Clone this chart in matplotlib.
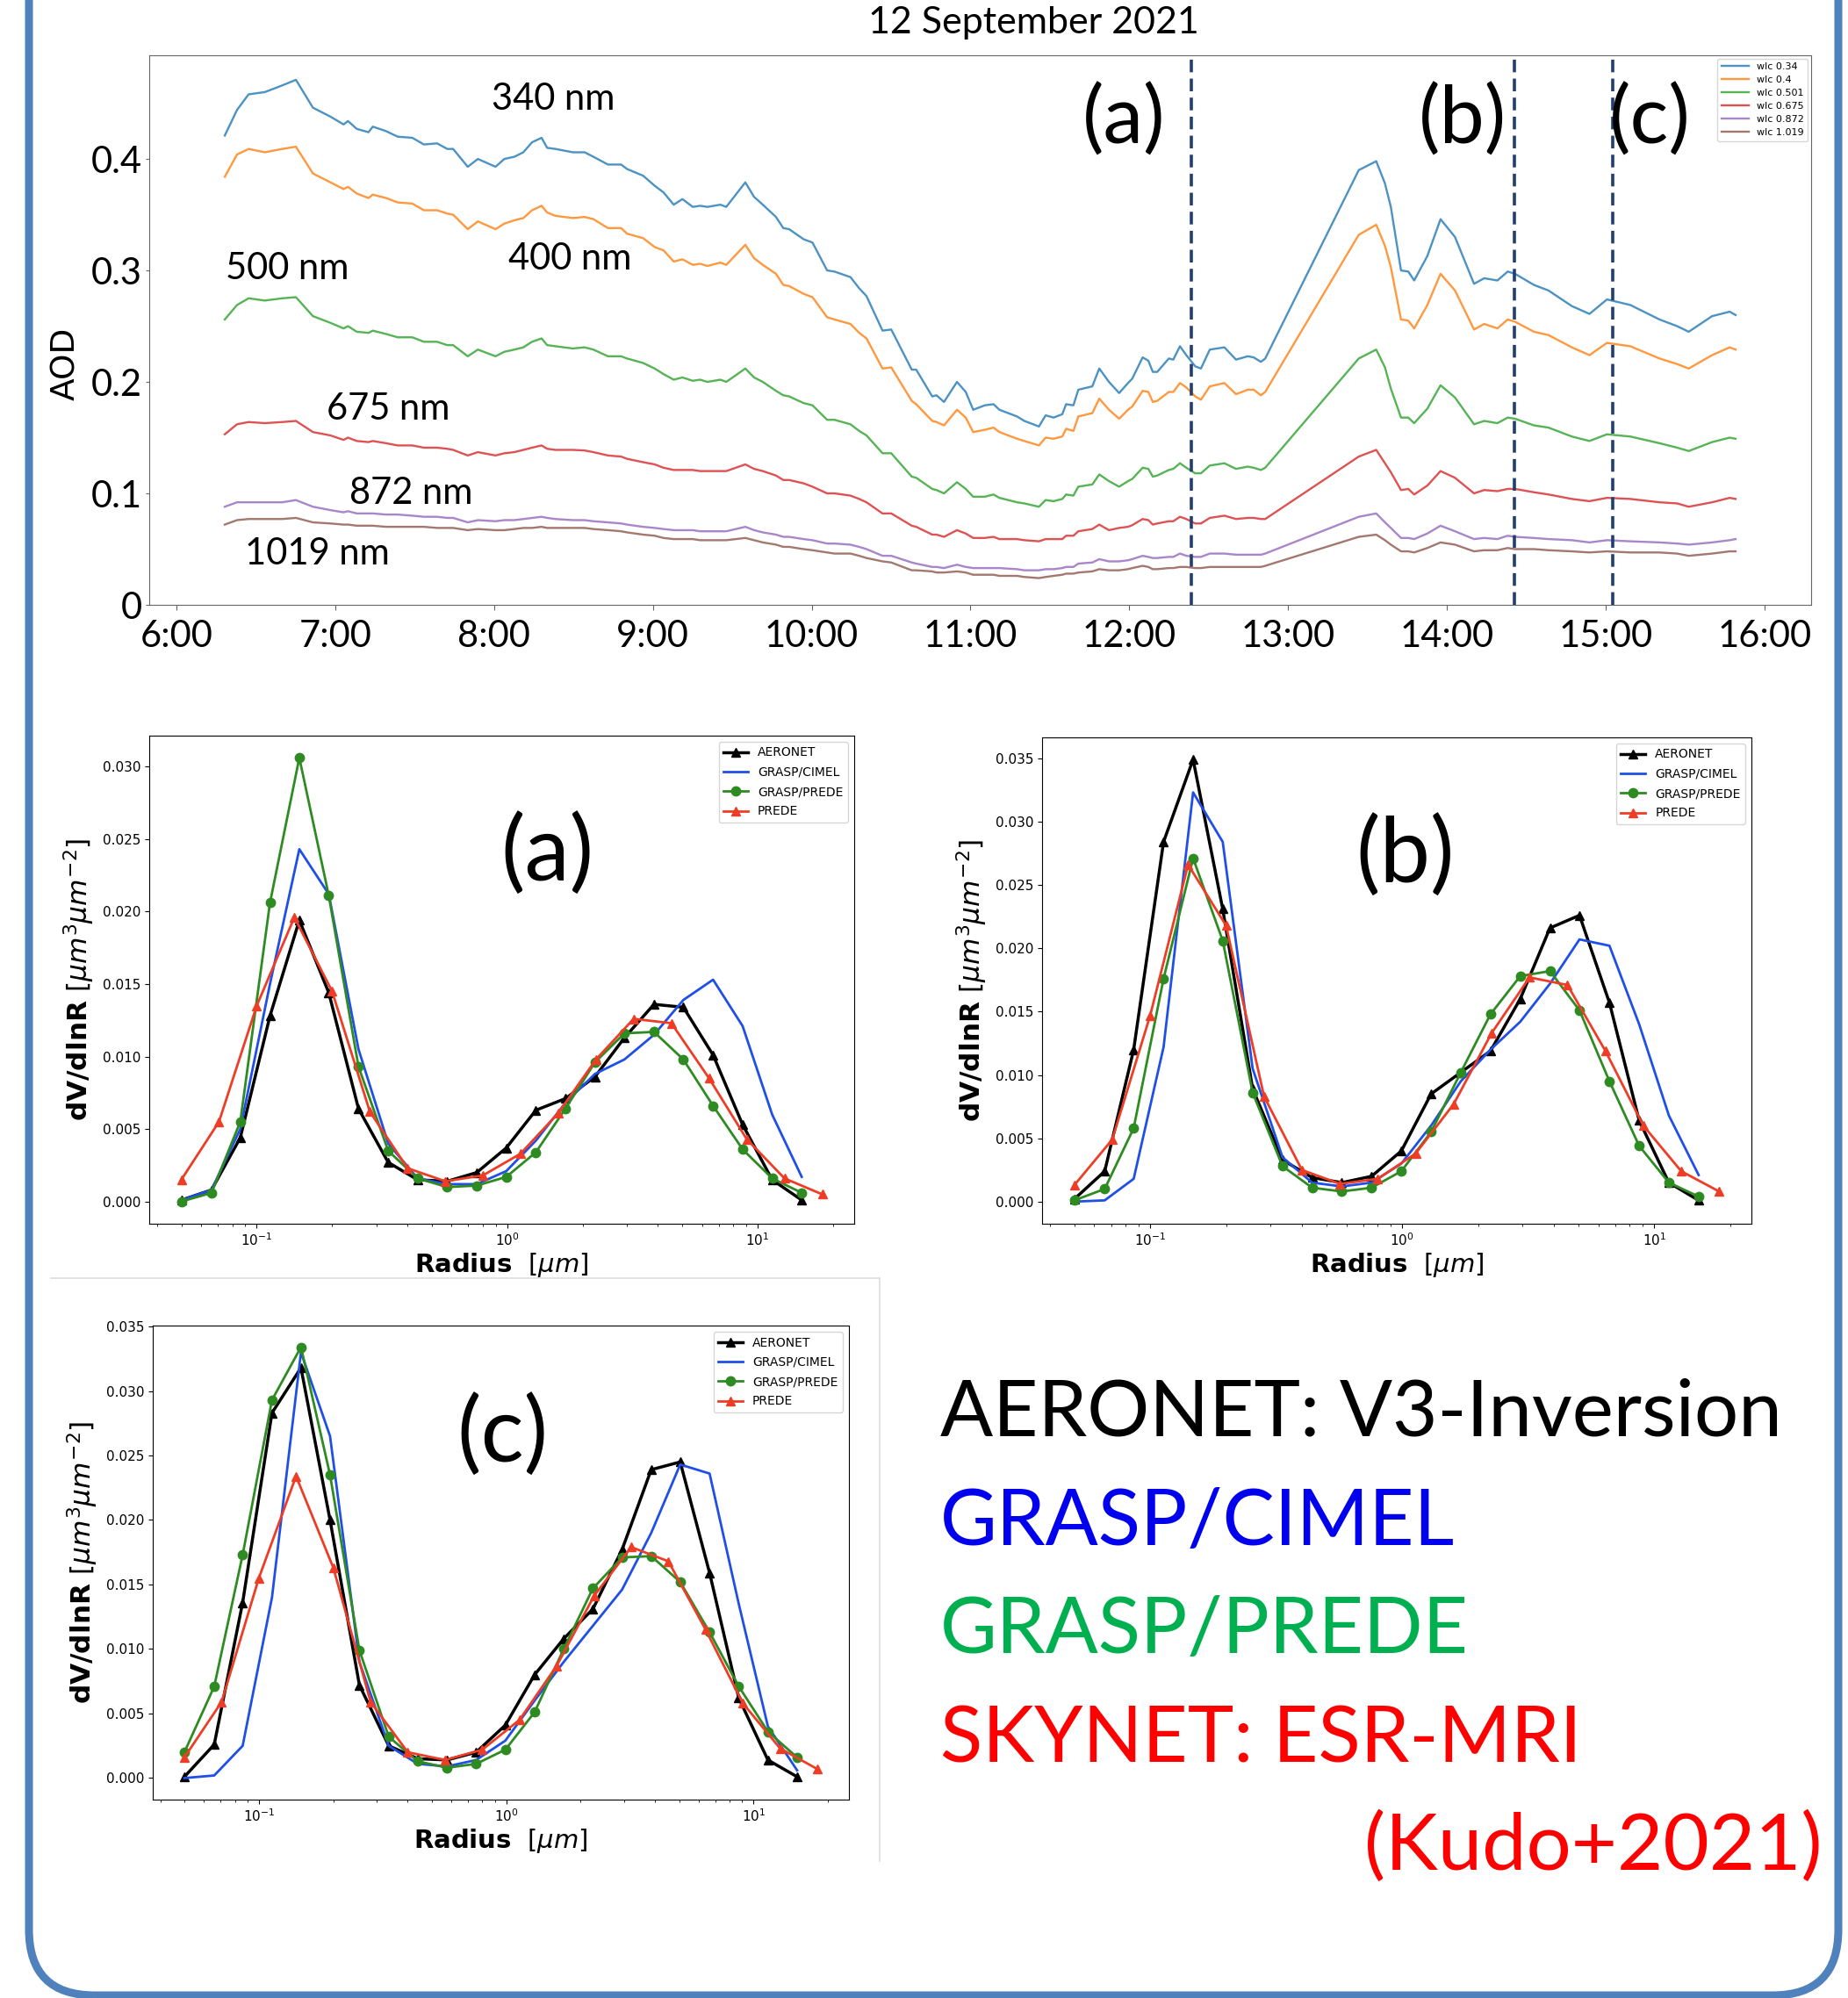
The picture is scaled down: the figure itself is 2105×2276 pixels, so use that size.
import matplotlib.pyplot as plt
from matplotlib.patches import FancyBboxPatch
from matplotlib.lines import Line2D
from matplotlib.transforms import IdentityTransform

# ---- top panel: AOD time series (hours, decimal) ----
times = [6.304, 6.381, 6.454, 6.556, 6.666, 6.752, 6.859, 6.969, 7.052, 7.080,
         7.135, 7.209, 7.236, 7.319, 7.393, 7.485, 7.558, 7.641, 7.705, 7.742,
         7.834, 7.898, 8.009, 8.064, 8.128, 8.184, 8.239, 8.299, 8.334, 8.386,
         8.496, 8.570, 8.625, 8.717, 8.800, 8.837, 8.938, 9.011, 9.067, 9.131,
         9.186, 9.251, 9.297, 9.343, 9.425, 9.462, 9.582, 9.637, 9.692, 9.775,
         9.821, 9.858, 9.949, 10.005, 10.097, 10.143, 10.244, 10.299, 10.345, 10.446,
         10.501, 10.630, 10.658, 10.759, 10.786, 10.833, 10.915, 10.970, 11.017,
         11.090, 11.145, 11.182, 11.293, 11.339, 11.431, 11.473, 11.523, 11.578, 11.602,
         11.648, 11.679, 11.767, 11.811, 11.872, 11.936, 11.992, 12.019, 12.084, 12.120,
         12.148, 12.176, 12.249, 12.277, 12.319, 12.359, 12.415, 12.451, 12.507, 12.599,
         12.672, 12.746, 12.783, 12.829, 12.856, 13.445, 13.555,
         13.610, 13.647, 13.711, 13.757, 13.794, 13.877, 13.960, 14.051, 14.171, 14.235,
         14.318, 14.383, 14.429, 14.548, 14.640, 14.787, 14.898, 15.008, 15.155, 15.339,
         15.450, 15.523, 15.670, 15.781, 15.818]

aod_340 = [0.421, 0.444, 0.458, 0.460, 0.466, 0.471, 0.446, 0.438, 0.431, 0.434,
           0.427, 0.424, 0.429, 0.425, 0.420, 0.419, 0.413, 0.414, 0.409, 0.409,
           0.393, 0.400, 0.393, 0.400, 0.402, 0.406, 0.415, 0.419, 0.410, 0.409,
           0.406, 0.406, 0.402, 0.395, 0.395, 0.391, 0.385, 0.376, 0.370, 0.359,
           0.364, 0.357, 0.358, 0.357, 0.359, 0.357, 0.379, 0.366, 0.359, 0.348,
           0.338, 0.337, 0.328, 0.325, 0.300, 0.299, 0.294, 0.284, 0.277, 0.246,
           0.247, 0.211, 0.211, 0.187, 0.188, 0.182, 0.200, 0.191, 0.175,
           0.179, 0.180, 0.175, 0.169, 0.165, 0.160, 0.170, 0.168, 0.171, 0.180,
           0.179, 0.193, 0.196, 0.212, 0.200, 0.190, 0.199, 0.203, 0.222, 0.219,
           0.209, 0.209, 0.221, 0.220, 0.232, 0.224, 0.214, 0.212, 0.229, 0.231,
           0.220, 0.223, 0.222, 0.218, 0.221, 0.390, 0.398,
           0.378, 0.357, 0.300, 0.299, 0.291, 0.313, 0.346, 0.330, 0.288, 0.293,
           0.291, 0.299, 0.297, 0.287, 0.282, 0.268, 0.261, 0.274, 0.269, 0.256,
           0.250, 0.245, 0.259, 0.263, 0.260]

aod_400 = [0.384, 0.404, 0.409, 0.406, 0.409, 0.411, 0.387, 0.379, 0.373, 0.375,
           0.369, 0.365, 0.368, 0.365, 0.361, 0.360, 0.354, 0.354, 0.351, 0.350,
           0.337, 0.344, 0.337, 0.342, 0.345, 0.347, 0.354, 0.358, 0.352, 0.349,
           0.347, 0.348, 0.346, 0.338, 0.338, 0.333, 0.329, 0.321, 0.318, 0.308,
           0.310, 0.305, 0.306, 0.304, 0.307, 0.305, 0.323, 0.311, 0.305, 0.297,
           0.287, 0.286, 0.279, 0.276, 0.258, 0.256, 0.252, 0.244, 0.239, 0.212,
           0.213, 0.183, 0.180, 0.165, 0.164, 0.161, 0.175, 0.168, 0.155,
           0.157, 0.159, 0.155, 0.149, 0.147, 0.143, 0.150, 0.149, 0.151, 0.158,
           0.156, 0.169, 0.172, 0.185, 0.175, 0.167, 0.175, 0.178, 0.192, 0.191,
           0.182, 0.183, 0.191, 0.191, 0.199, 0.195, 0.187, 0.184, 0.196, 0.199,
           0.189, 0.193, 0.193, 0.188, 0.191, 0.332, 0.341,
           0.322, 0.303, 0.256, 0.255, 0.248, 0.269, 0.297, 0.282, 0.247, 0.252,
           0.248, 0.256, 0.254, 0.245, 0.242, 0.231, 0.224, 0.235, 0.232, 0.221,
           0.216, 0.212, 0.224, 0.231, 0.229]

aod_500 = [0.256, 0.269, 0.275, 0.273, 0.275, 0.276, 0.259, 0.253, 0.248, 0.250,
           0.245, 0.244, 0.246, 0.243, 0.240, 0.240, 0.236, 0.236, 0.233, 0.233,
           0.223, 0.229, 0.223, 0.227, 0.229, 0.231, 0.236, 0.239, 0.233, 0.232,
           0.230, 0.231, 0.229, 0.223, 0.223, 0.221, 0.217, 0.212, 0.207, 0.202,
           0.204, 0.201, 0.202, 0.200, 0.202, 0.200, 0.212, 0.204, 0.200, 0.192,
           0.188, 0.187, 0.181, 0.179, 0.166, 0.166, 0.162, 0.156, 0.152, 0.136,
           0.136, 0.115, 0.114, 0.104, 0.103, 0.100, 0.110, 0.104, 0.097,
           0.097, 0.099, 0.096, 0.092, 0.091, 0.088, 0.094, 0.093, 0.095, 0.099,
           0.098, 0.106, 0.108, 0.117, 0.111, 0.106, 0.111, 0.113, 0.123, 0.122,
           0.115, 0.116, 0.121, 0.122, 0.127, 0.123, 0.118, 0.118, 0.125, 0.127,
           0.122, 0.124, 0.123, 0.121, 0.123, 0.221, 0.229,
           0.213, 0.194, 0.168, 0.168, 0.163, 0.176, 0.197, 0.186, 0.162, 0.165,
           0.163, 0.168, 0.167, 0.161, 0.159, 0.151, 0.147, 0.153, 0.151, 0.145,
           0.141, 0.138, 0.146, 0.150, 0.149]

aod_675 = [0.153, 0.162, 0.164, 0.163, 0.164, 0.165, 0.155, 0.152, 0.148, 0.150,
           0.147, 0.146, 0.147, 0.145, 0.143, 0.143, 0.141, 0.141, 0.140, 0.139,
           0.134, 0.137, 0.134, 0.136, 0.137, 0.139, 0.141, 0.143, 0.140, 0.139,
           0.139, 0.1385, 0.137, 0.134, 0.133, 0.131, 0.128, 0.126, 0.123, 0.121,
           0.121, 0.121, 0.120, 0.120, 0.120, 0.120, 0.126, 0.122, 0.120, 0.116,
           0.112, 0.112, 0.109, 0.106, 0.100, 0.100, 0.098, 0.095, 0.092, 0.082,
           0.082, 0.071, 0.070, 0.063, 0.063, 0.061, 0.067, 0.064, 0.060,
           0.060, 0.061, 0.059, 0.059, 0.058, 0.057, 0.059, 0.059, 0.059, 0.062,
           0.062, 0.066, 0.068, 0.072, 0.067, 0.069, 0.070, 0.0715, 0.077, 0.076,
           0.072, 0.073, 0.075, 0.075, 0.079, 0.077, 0.073, 0.073, 0.078, 0.080,
           0.077, 0.078, 0.078, 0.077, 0.077, 0.133, 0.139,
           0.127, 0.119, 0.103, 0.104, 0.099, 0.107, 0.120, 0.114, 0.100, 0.103,
           0.102, 0.104, 0.104, 0.101, 0.099, 0.095, 0.093, 0.096, 0.095, 0.092,
           0.091, 0.088, 0.092, 0.096, 0.095]

aod_872 = [0.088, 0.092, 0.092, 0.092, 0.092, 0.094, 0.088, 0.085, 0.083, 0.084,
           0.082, 0.082, 0.082, 0.081, 0.081, 0.080, 0.079, 0.079, 0.078, 0.078,
           0.074, 0.076, 0.075, 0.076, 0.076, 0.077, 0.078, 0.079, 0.078, 0.077,
           0.076, 0.076, 0.075, 0.074, 0.073, 0.072, 0.070, 0.069, 0.068, 0.067,
           0.067, 0.067, 0.066, 0.066, 0.066, 0.066, 0.070, 0.067, 0.065, 0.063,
           0.061, 0.061, 0.059, 0.058, 0.055, 0.055, 0.054, 0.052, 0.050, 0.044,
           0.044, 0.038, 0.037, 0.034, 0.034, 0.033, 0.036, 0.034, 0.033,
           0.033, 0.033, 0.033, 0.032, 0.031, 0.031, 0.032, 0.032, 0.033, 0.034,
           0.034, 0.037, 0.038, 0.041, 0.039, 0.039, 0.040, 0.041, 0.044, 0.043,
           0.042, 0.042, 0.043, 0.043, 0.046, 0.044, 0.043, 0.043, 0.046, 0.046,
           0.045, 0.045, 0.045, 0.045, 0.046, 0.079, 0.082,
           0.074, 0.069, 0.060, 0.060, 0.059, 0.064, 0.071, 0.066, 0.059, 0.060,
           0.059, 0.062, 0.061, 0.060, 0.059, 0.058, 0.056, 0.058, 0.057, 0.056,
           0.055, 0.054, 0.056, 0.058, 0.059]

aod_1019 = [0.072, 0.076, 0.077, 0.077, 0.077, 0.078, 0.074, 0.073, 0.072, 0.072,
            0.071, 0.071, 0.071, 0.070, 0.070, 0.070, 0.070, 0.069, 0.069, 0.069,
            0.067, 0.068, 0.067, 0.067, 0.068, 0.069, 0.069, 0.070, 0.069, 0.069,
            0.069, 0.069, 0.068, 0.067, 0.066, 0.065, 0.063, 0.062, 0.060, 0.059,
            0.059, 0.059, 0.058, 0.058, 0.058, 0.058, 0.060, 0.058, 0.056, 0.054,
            0.052, 0.052, 0.050, 0.049, 0.047, 0.046, 0.046, 0.044, 0.042, 0.039,
            0.038, 0.031, 0.031, 0.030, 0.029, 0.029, 0.030, 0.029, 0.027,
            0.027, 0.027, 0.026, 0.026, 0.025, 0.024, 0.025, 0.026, 0.027, 0.028,
            0.028, 0.029, 0.030, 0.032, 0.031, 0.031, 0.032, 0.033, 0.035, 0.034,
            0.032, 0.032, 0.033, 0.033, 0.034, 0.034, 0.033, 0.033, 0.034, 0.034,
            0.034, 0.034, 0.034, 0.034, 0.035, 0.061, 0.063,
            0.058, 0.054, 0.048, 0.048, 0.047, 0.051, 0.056, 0.054, 0.048, 0.049,
            0.049, 0.051, 0.050, 0.050, 0.049, 0.048, 0.047, 0.048, 0.047, 0.047,
            0.046, 0.044, 0.046, 0.048, 0.048]

wlc_labels = ["wlc 0.34", "wlc 0.4", "wlc 0.501", "wlc 0.675", "wlc 0.872", "wlc 1.019"]
nm_labels = ["340 nm", "400 nm", "500 nm", "675 nm", "872 nm", "1019 nm"]
nm_pos = [(8.373, 0.4535), (8.478, 0.310), (6.70, 0.302), (7.335, 0.176), (7.479, 0.100), (6.885, 0.0455)]
hour_ticks = [6, 7, 8, 9, 10, 11, 12, 13, 14, 15, 16]
hour_labels = ["6:00", "7:00", "8:00", "9:00", "10:00", "11:00", "12:00", "13:00", "14:00", "15:00", "16:00"]
case_times = [12.391, 14.425, 15.042]
case_labels = ["(a)", "(b)", "(c)"]
case_label_x = [11.966, 14.10, 15.28]

# ---- size distributions ----
radius_bins = [0.050, 0.066, 0.086, 0.113, 0.148, 0.194, 0.255, 0.335, 0.439, 0.576, 0.756,
               0.992, 1.302, 1.708, 2.241, 2.940, 3.857, 5.051, 6.641, 8.713, 11.43, 15.0]
radius_prede = [0.05, 0.0707, 0.1, 0.1414, 0.2, 0.283, 0.4, 0.566, 0.8, 1.131,
                1.6, 2.263, 3.2, 4.525, 6.4, 9.05, 12.8, 18.1]

aeronet_a = [0.0001, 0.0008, 0.0044, 0.0128, 0.0194, 0.0144, 0.0064, 0.0027, 0.0015, 0.0014, 0.0020,
             0.0037, 0.0063, 0.0071, 0.0086, 0.0113, 0.0136, 0.0134, 0.0101, 0.0053, 0.0015, 0.0001]
cimel_a = [0.0001, 0.0008, 0.0050, 0.0150, 0.0243, 0.0212, 0.0105, 0.0040, 0.0016, 0.0012, 0.0012,
           0.0021, 0.0042, 0.0068, 0.0088, 0.0098, 0.0115, 0.0139, 0.0153, 0.0121, 0.0060, 0.0017]
gprede_a = [0.0000, 0.0006, 0.0055, 0.0206, 0.0306, 0.0211, 0.0093, 0.0035, 0.0016, 0.0010, 0.0011,
            0.0017, 0.0034, 0.0064, 0.0096, 0.0116, 0.0117, 0.0098, 0.0066, 0.0036, 0.0016, 0.0006]
skynet_a = [0.0015, 0.0055, 0.0135, 0.0196, 0.0145, 0.0062, 0.0023, 0.0014, 0.0018,
            0.0033, 0.0061, 0.0098, 0.0126, 0.0123, 0.0085, 0.0043, 0.0016, 0.0005]

aeronet_b = [0.0002, 0.0024, 0.0120, 0.0284, 0.0349, 0.0231, 0.0089, 0.0033, 0.0019, 0.0015, 0.0020,
             0.0040, 0.0085, 0.0102, 0.0119, 0.0160, 0.0216, 0.0226, 0.0157, 0.0064, 0.0015, 0.0001]
cimel_b = [0.0000, 0.0001, 0.0018, 0.0122, 0.0323, 0.0284, 0.0105, 0.0035, 0.0015, 0.0012, 0.0015,
           0.0030, 0.0060, 0.0095, 0.0120, 0.0142, 0.0172, 0.0207, 0.0202, 0.0140, 0.0068, 0.0021]
gprede_b = [0.0001, 0.0010, 0.0058, 0.0176, 0.0271, 0.0206, 0.0086, 0.0028, 0.0011, 0.0008, 0.0011,
            0.0024, 0.0055, 0.0102, 0.0148, 0.0178, 0.0182, 0.0151, 0.0095, 0.0044, 0.0015, 0.0004]
skynet_b = [0.0013, 0.0049, 0.0147, 0.0266, 0.0218, 0.0083, 0.0025, 0.0014, 0.0018,
            0.0038, 0.0077, 0.0133, 0.0177, 0.0171, 0.0119, 0.0060, 0.0024, 0.0008]

aeronet_c = [0.0001, 0.0026, 0.0136, 0.0283, 0.0318, 0.0200, 0.0072, 0.0025, 0.0015, 0.0014, 0.0020,
             0.0041, 0.0080, 0.0108, 0.0131, 0.0177, 0.0239, 0.0245, 0.0159, 0.0062, 0.0014, 0.0001]
cimel_c = [0.0000, 0.0002, 0.0025, 0.0140, 0.0330, 0.0265, 0.0090, 0.0025, 0.0011, 0.0009, 0.0014,
           0.0029, 0.0060, 0.0090, 0.0118, 0.0146, 0.0190, 0.0243, 0.0236, 0.0135, 0.0040, 0.0006]
gprede_c = [0.0020, 0.0071, 0.0173, 0.0293, 0.0334, 0.0235, 0.0099, 0.0032, 0.0013, 0.0008, 0.0011,
            0.0022, 0.0051, 0.0100, 0.0147, 0.0171, 0.0172, 0.0152, 0.0113, 0.0071, 0.0036, 0.0016]
skynet_c = [0.0016, 0.0059, 0.0155, 0.0234, 0.0163, 0.0059, 0.0020, 0.0014, 0.0022,
            0.0045, 0.0087, 0.0141, 0.0179, 0.0168, 0.0115, 0.0058, 0.0023, 0.0007]

W, H = 2105, 2276
fig = plt.figure(figsize=(W / 100, H / 100), dpi=100)


def box(x0, y0, x1, y1):
    # pixel box (top-left origin) -> figure fraction rect
    return [x0 / W, 1 - y1 / H, (x1 - x0) / W, (y1 - y0) / H]


# ---------------- top AOD panel ----------------
ax = fig.add_axes(box(170, 63, 2063, 689))
series = [aod_340, aod_400, aod_500, aod_675, aod_872, aod_1019]
colors = ['#1f77b4', '#ff7f0e', '#2ca02c', '#d62728', '#9467bd', '#8c564b']
for vals, c, lab in zip(series, colors, wlc_labels):
    ax.plot(times, vals, color=c, lw=1.7, alpha=0.8, label=lab)
for t in case_times:
    ax.axvline(t, color='#1f3f73', lw=2.6, dashes=(4, 2))
ax.set_ylim(0, 0.493)
ax.set_xticks(hour_ticks)
ax.set_xticklabels(hour_labels, family='Lato', fontsize=30)
ax.set_yticks([0, 0.1, 0.2, 0.3, 0.4])
ax.set_yticklabels(["0", "0.1", "0.2", "0.3", "0.4"], family='Lato', fontsize=30)
ax.tick_params(axis='x', pad=8, length=4, color='#666666')
ax.tick_params(axis='y', pad=3, length=3, color='#666666')
for sp in ax.spines.values():
    sp.set_color('#666666')
for lab, (tx, ty) in zip(nm_labels, nm_pos):
    ax.text(tx, ty, lab, family='Lato', fontsize=30, ha='center', va='center')
for lab, tx in zip(case_labels, case_label_x):
    ax.text(tx, 0.434, lab, family='Lato', fontsize=66, ha='center', va='center')
ax.legend(loc='upper right', fontsize=8, borderaxespad=0.35, handlelength=2.8, labelspacing=0.45)
fig.text(75 / W, 1 - 414 / H, "AOD", rotation=90, fontsize=27, ha='center', va='center')
fig.text(1177 / W, 1 - 26 / H, "12 September 2021", family='Lato', fontsize=31,
         ha='center', va='center')


# ---------------- size distribution panels ----------------
def draw_panel(rect, aeronet, cimel, gprede, skynet, label, lx, ly):
    a = fig.add_axes(rect)
    a.plot(radius_bins, aeronet, color='black', marker='^', ms=7.5, lw=2.5, label='AERONET')
    a.plot(radius_bins, cimel, color='#1f4fe6', lw=2, label='GRASP/CIMEL')
    a.plot(radius_bins, gprede, color='#2e8b22', marker='o', ms=7.5, lw=2, label='GRASP/PREDE')
    a.plot(radius_prede, skynet, color='#ee3d26', marker='^', ms=7.5, lw=2, label='PREDE')
    a.set_xscale('log')
    a.tick_params(labelsize=11)
    a.set_xlabel(r'$\mathbf{Radius}$  $[\mu m]$', fontsize=21, labelpad=2)
    a.set_ylabel(r'$\mathbf{dV/dlnR}$ $[\mu m^3 \mu m^{-2}]$', fontsize=22.5, labelpad=5)
    a.legend(loc='upper right', fontsize=10, labelspacing=0.6)
    a.text(lx, ly, label, transform=a.transAxes, family='Lato', fontsize=74,
           ha='center', va='center')
    return a


draw_panel(box(170, 838, 973, 1394), aeronet_a, cimel_a, gprede_a, skynet_a, "(a)", 0.565, 0.757)
draw_panel(box(1187, 840, 1995, 1394), aeronet_b, cimel_b, gprede_b, skynet_b, "(b)", 0.512, 0.755)
draw_panel(box(174, 1510, 967, 2050), aeronet_c, cimel_c, gprede_c, skynet_c, "(c)", 0.503, 0.767)

# faint frame of panel (c) image
fig.add_artist(Line2D([58 / W, 1002 / W], [1 - 1456 / H, 1 - 1456 / H], color='#dddddd', lw=1.2))
fig.add_artist(Line2D([1002 / W, 1002 / W], [1 - 1456 / H, 1 - 2120 / H], color='#dddddd', lw=1.2))

# ---------------- method key ----------------
key_lines = ["AERONET: V3-Inversion", "GRASP/CIMEL", "GRASP/PREDE", "SKYNET: ESR-MRI"]
key_colors = ['black', '#0000ee', '#00b050', '#ff0000']
key_y = [1611, 1735, 1858, 1982]
for txt, c, y in zip(key_lines, key_colors, key_y):
    fig.text(1071 / W, 1 - y / H, txt, color=c, family='Lato', fontsize=64, ha='left', va='center')
fig.text(2076 / W, 1 - 2105 / H, "(Kudo+2021)", color='#ff0000', family='Lato', fontsize=65,
         ha='right', va='center')

# rounded blue frame
frame = FancyBboxPatch((33, 3), 2094 - 33, H + 300, boxstyle="round,pad=0,rounding_size=75",
                       transform=IdentityTransform(), fill=False, edgecolor='#4f81bd', lw=6.5)
fig.add_artist(frame)

fig.savefig("out.png", dpi=100)
